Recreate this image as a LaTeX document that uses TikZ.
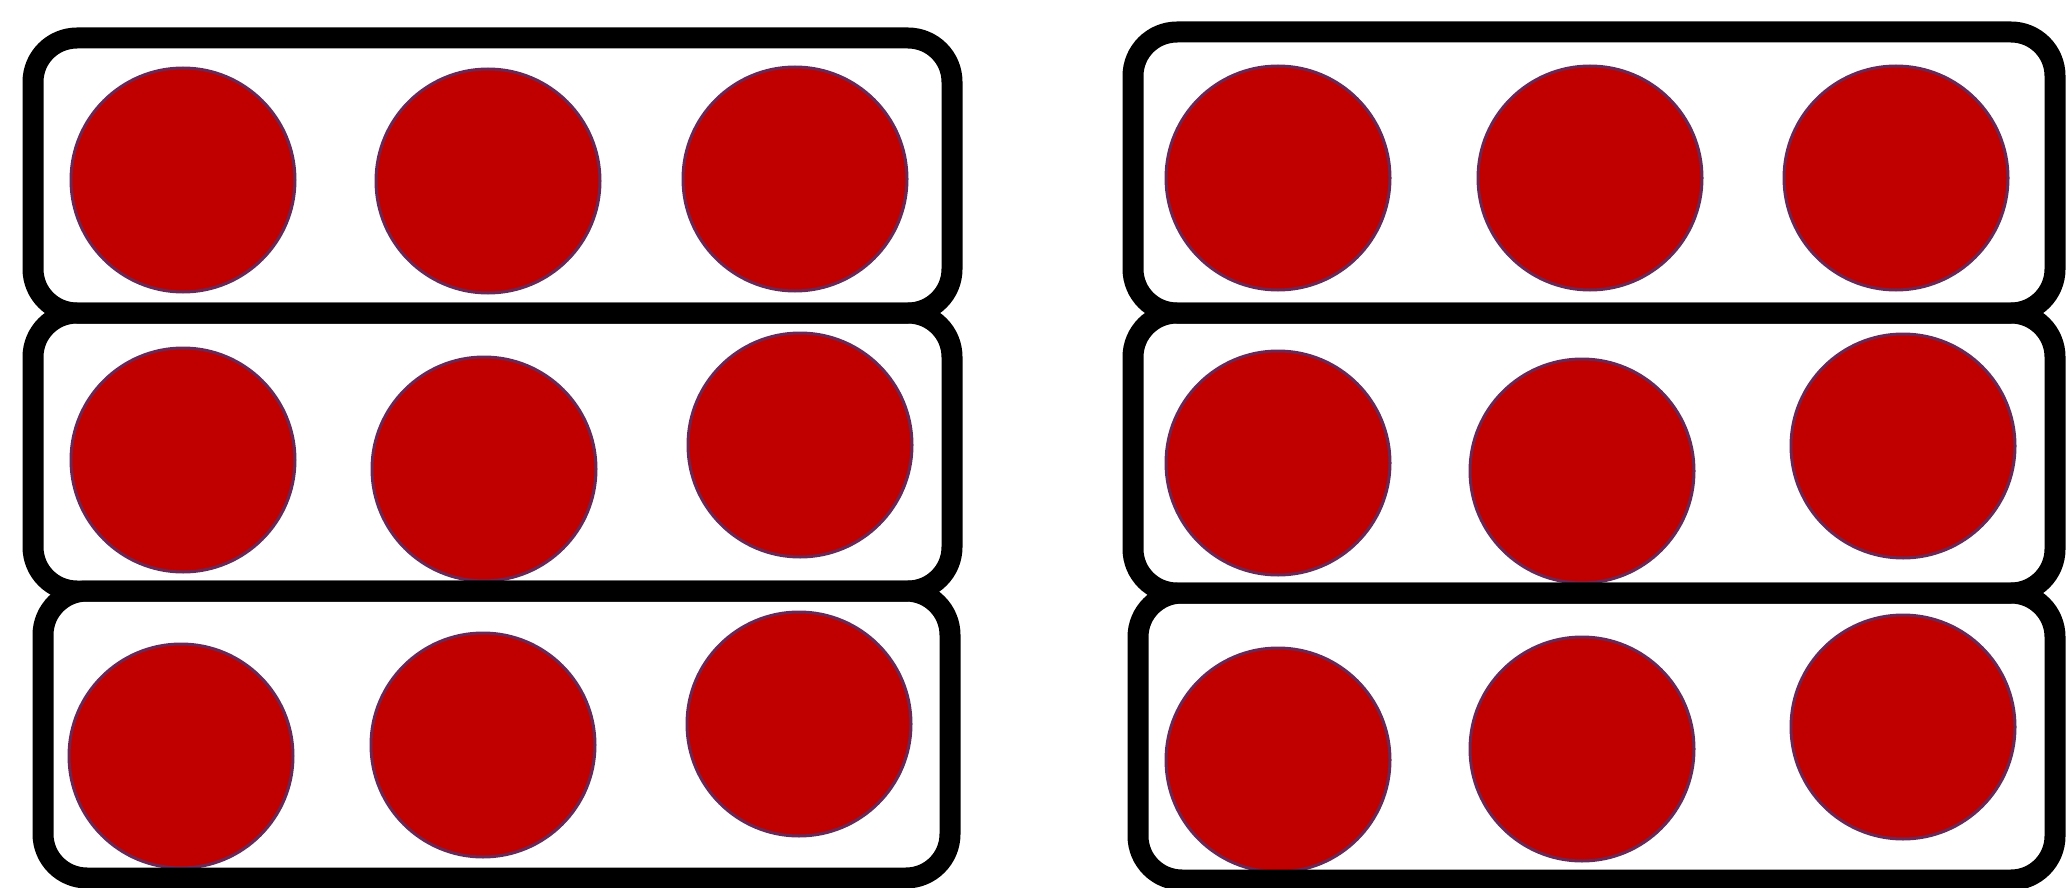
\documentclass[tikz,border=0pt]{standalone}
\usepackage{tikz}
\definecolor{dotred}{RGB}{192,0,0}
\definecolor{dotrim}{RGB}{105,40,85}
\tikzset{
  dot/.style={circle, fill=dotred, draw=dotrim, line width=3pt, minimum size=224pt, inner sep=0pt},
  tray/.style={draw=black, line width=21pt, rounded corners=44pt}
}
\begin{document}
\begin{tikzpicture}[x=1pt,y=-1pt]
\fill[white] (0,0) rectangle (2066,888);
\useasboundingbox (0,0) rectangle (2066,888);
% left group dots
\node[dot] (l11) at (183,180) {};
\node[dot] (l12) at (488,181) {};
\node[dot] (l13) at (795,179) {};
\node[dot] (l21) at (183,460) {};
\node[dot] (l22) at (484,469) {};
\node[dot] (l23) at (800,445) {};
\node[dot] (l31) at (181,756) {};
\node[dot] (l32) at (483,745) {};
\node[dot] (l33) at (799,724) {};
% right group dots
\node[dot] (r11) at (1278,178) {};
\node[dot] (r12) at (1590,178) {};
\node[dot] (r13) at (1896,178) {};
\node[dot] (r21) at (1278,463) {};
\node[dot] (r22) at (1582,471) {};
\node[dot] (r23) at (1903,446) {};
\node[dot] (r31) at (1278,760) {};
\node[dot] (r32) at (1582,749) {};
\node[dot] (r33) at (1903,727) {};
% trays
\draw[tray] (33,38) rectangle (952,313);
\draw[tray] (33,313) rectangle (952,591);
\draw[tray] (43,591) rectangle (950,878);
\draw[tray] (1133,32) rectangle (2055,313);
\draw[tray] (1133,313) rectangle (2055,593);
\draw[tray] (1138,593) rectangle (2055,880);
\end{tikzpicture}
\end{document}
